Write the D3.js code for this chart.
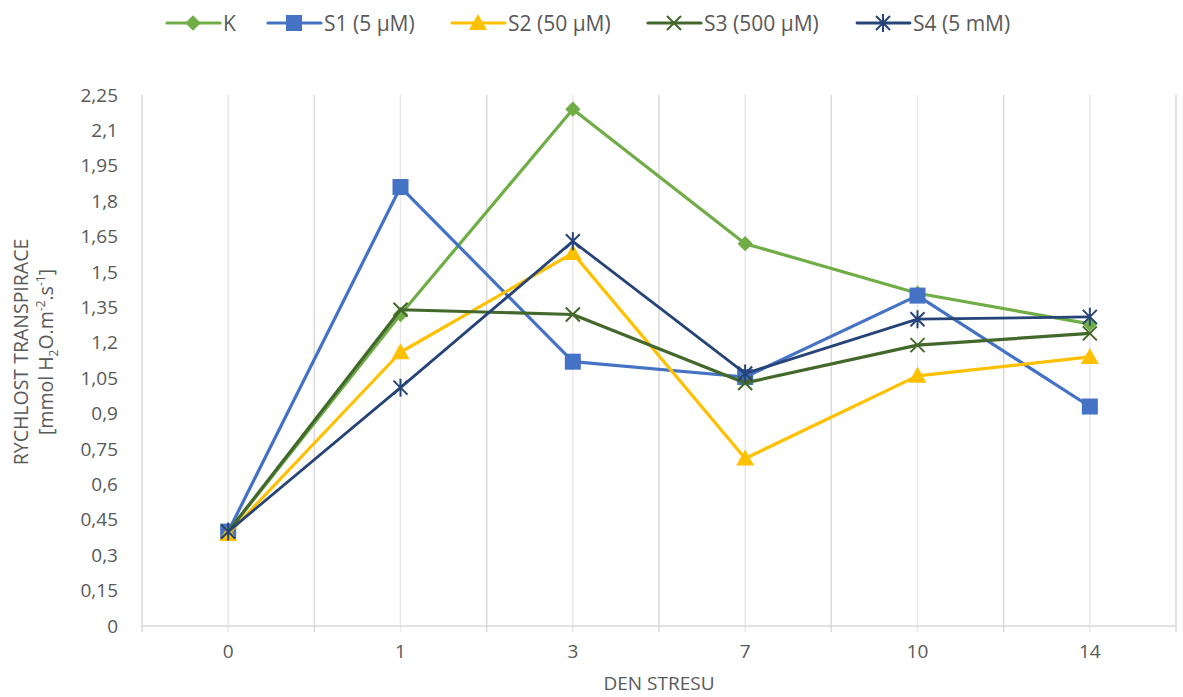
<!DOCTYPE html>
<html>
<head>
<meta charset="utf-8">
<script src="https://cdn.jsdelivr.net/npm/d3@7"></script>
<style>
  body { margin: 0; background: #fff; }
  text { font-family: "Open Sans", "Noto Sans", sans-serif; fill: #595959; }
</style>
</head>
<body>
<svg id="chart" width="1183" height="697"></svg>
<script>
// categories (stress day) and series values
const days = ['0', '1', '3', '7', '10', '14'];
const valuesK = [0.40, 1.32, 2.19, 1.62, 1.41, 1.28];
const valuesS1 = [0.40, 1.86, 1.12, 1.055, 1.40, 0.93];
const valuesS2 = [0.39, 1.16, 1.58, 0.71, 1.06, 1.14];
const valuesS3 = [0.40, 1.34, 1.32, 1.03, 1.19, 1.24];
const valuesS4 = [0.40, 1.01, 1.63, 1.07, 1.30, 1.31];
const yTicks = [0, 0.15, 0.3, 0.45, 0.6, 0.75, 0.9, 1.05, 1.2, 1.35, 1.5, 1.65, 1.8, 1.95, 2.1, 2.25];

const series = [
  {name: 'K', values: valuesK, color: '#70ad47', marker: 'diamond', width: 3.2},
  {name: 'S1 (5 µM)', values: valuesS1, color: '#4472c4', marker: 'square', width: 3.2},
  {name: 'S2 (50 µM)', values: valuesS2, color: '#ffc000', marker: 'triangle', width: 3.2},
  {name: 'S3 (500 µM)', values: valuesS3, color: '#43682b', marker: 'x', width: 3.2},
  {name: 'S4 (5 mM)', values: valuesS4, color: '#264478', marker: 'star', width: 2.8},
];

const svg = d3.select('#chart');
const margin = {left: 142, right: 7, top: 95, bottom: 71};
const width = 1183 - margin.left - margin.right;
const height = 697 - margin.top - margin.bottom;

const x = d3.scaleBand().domain(days).range([0, width]);
const y = d3.scaleLinear().domain([0, 2.25]).range([height, 0]);

const g = svg.append('g').attr('transform', `translate(${margin.left},${margin.top})`);

// vertical gridlines: category borders (darker) and centers (lighter)
const gridX = [];
days.forEach((d, i) => {
  if (i > 0) gridX.push({pos: x(d), major: true});
  gridX.push({pos: x(d) + x.bandwidth() / 2, major: false});
});
gridX.push({pos: width, major: true});
g.append('g').selectAll('line')
    .data(gridX)
    .enter()
    .append('line')
    .attr('x1', (d) => d.pos).attr('x2', (d) => d.pos)
    .attr('y1', 0).attr('y2', height + 6)
    .style('stroke', (d) => d.major ? '#d9d9d9' : '#e9e9e9')
    .style('stroke-width', 1.5);

// axis lines
g.append('line')
    .attr('x1', 0).attr('x2', 0)
    .attr('y1', 0).attr('y2', height + 6)
    .style('stroke', '#d9d9d9').style('stroke-width', 1.5);
g.append('line')
    .attr('x1', 0).attr('x2', width)
    .attr('y1', height).attr('y2', height)
    .style('stroke', '#d9d9d9').style('stroke-width', 1.5);

// y tick labels
const fmt = (v) => String(+v.toFixed(2)).replace('.', ',');
const yAxis = g.append('g')
    .call(d3.axisLeft(y).tickValues(yTicks).tickFormat(fmt).tickSize(0).tickPadding(24));
yAxis.select('.domain').remove();
yAxis.selectAll('text')
    .style('font-size', '19px')
    .attr('fill', '#595959')
    .style('font-family', '"Open Sans", sans-serif');

// x tick labels
const xAxis = g.append('g')
    .attr('transform', `translate(0,${height})`)
    .call(d3.axisBottom(x).tickSize(0).tickPadding(19));
xAxis.select('.domain').remove();
xAxis.selectAll('text')
    .style('font-size', '19px')
    .attr('fill', '#595959')
    .style('font-family', '"Open Sans", sans-serif');

// axis titles
svg.append('text')
    .attr('x', 659).attr('y', 690)
    .attr('text-anchor', 'middle')
    .style('font-size', '19px')
    .text('DEN STRESU');

const yTitle = svg.append('g').attr('transform', 'translate(28,352) rotate(-90)');
yTitle.append('text')
    .attr('text-anchor', 'middle')
    .style('font-size', '19.5px')
    .text('RYCHLOST TRANSPIRACE');
const sub = yTitle.append('text')
    .attr('y', 25)
    .attr('text-anchor', 'middle')
    .style('font-size', '19.5px');
sub.append('tspan').text('[mmol H');
sub.append('tspan').attr('dy', 5).style('font-size', '12px').text('2');
sub.append('tspan').attr('dy', -5).text('O.m');
sub.append('tspan').attr('dy', -8).style('font-size', '12px').text('-2');
sub.append('tspan').attr('dy', 8).text('.s');
sub.append('tspan').attr('dy', -8).style('font-size', '12px').text('-1');
sub.append('tspan').attr('dy', 8).text(']');

// marker drawing
function drawMarker(sel, type, color) {
  if (type === 'diamond') {
    sel.append('path').attr('d', d3.symbol(d3.symbolDiamond2, 150)())
        .attr('fill', color);
  } else if (type === 'square') {
    sel.append('rect').attr('x', -8).attr('y', -8).attr('width', 16).attr('height', 16)
        .attr('fill', color);
  } else if (type === 'triangle') {
    sel.append('path').attr('d', 'M0,-9L9,7L-9,7Z').attr('fill', color);
  } else if (type === 'x') {
    sel.append('path').attr('d', 'M-7,-7L7,7M-7,7L7,-7')
        .attr('stroke', color).attr('stroke-width', 2).attr('fill', 'none');
  } else if (type === 'star') {
    sel.append('path').attr('d', 'M-7,-7L7,7M-7,7L7,-7M0,-9L0,9')
        .attr('stroke', color).attr('stroke-width', 2).attr('fill', 'none');
  }
}

const line = d3.line()
    .x((d, i) => x(days[i]) + x.bandwidth() / 2)
    .y((d) => y(d));

series.forEach((s) => {
  g.append('path')
      .datum(s.values)
      .attr('d', line)
      .attr('fill', 'none')
      .attr('stroke', s.color)
      .attr('stroke-width', s.width)
      .attr('stroke-linejoin', 'round');
  g.append('g').selectAll('g')
      .data(s.values)
      .enter()
      .append('g')
      .attr('transform', (d, i) => `translate(${x(days[i]) + x.bandwidth() / 2},${y(d)})`)
      .each(function() {
        drawMarker(d3.select(this), s.marker, s.color);
      });
});

// legend
const legendX = [167, 268, 452, 648, 857];
const legend = svg.append('g');
series.forEach((s, i) => {
  const item = legend.append('g').attr('transform', `translate(${legendX[i]},23)`);
  item.append('line')
      .attr('x1', 0).attr('x2', 53)
      .attr('stroke', s.color).attr('stroke-width', s.width)
      .attr('stroke-linecap', 'round');
  const m = item.append('g').attr('transform', 'translate(26,0)');
  drawMarker(m, s.marker, s.color);
  item.append('text')
      .attr('x', 56).attr('y', 7.5)
      .style('font-size', '21px')
      .text(s.name);
});
</script>
</body>
</html>
